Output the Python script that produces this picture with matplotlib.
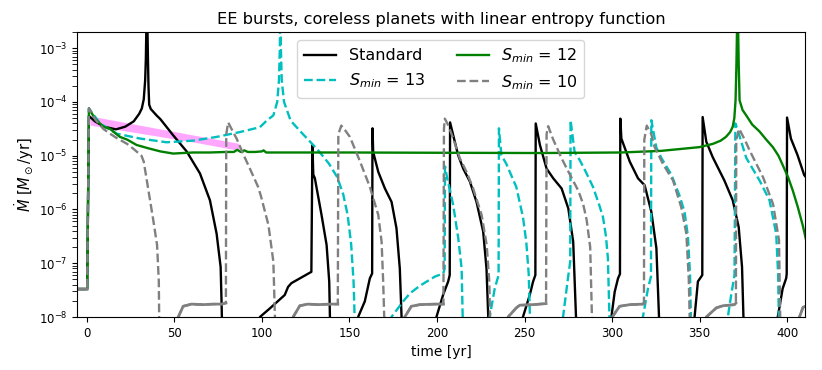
import numpy as np
import matplotlib.pyplot as plt

# time [yr] and log10(Mdot [Msun/yr]); -9 means "below the axis"
std_t = [-6, 0.3, 1.3, 4.7, 10, 16.7, 22, 26.9, 30, 31.5, 32.6, 33.4, 33.8, 34.1, 34.4, 34.7, 35.0, 35.3, 35.7, 36.6,
         39.9, 42.1, 49.4, 57.1, 64.7, 70.4, 74.2, 76.5, 77.0, 77.4, 77.8,
         98.5, 98.9, 104.6, 113.1, 115, 116.9, 128.3, 128.9, 129.4, 130.3, 134.1, 137.0, 138.5, 138.9, 139.2,
         154.7, 155.0, 158.8, 161.7, 163.0, 163.2, 163.6, 166.5, 170.3, 174.1, 176.9, 178.8, 179.8, 180.1,
         199.4, 199.7, 203.5, 206.4, 207.3, 207.5, 209.3, 212.1, 215.0, 218.8, 222.6, 226.4, 228.3, 229.3, 229.6,
         248.8, 249.1, 253.0, 254.9, 256.2, 256.4, 258.8, 262.6, 266.4, 271.2, 275.0, 277.8, 279.4, 279.7,
         299.3, 299.6, 301.5, 303.4, 304.5, 304.7, 305.3, 310.1, 314.8, 318.6, 322.4, 325.3, 326.8, 327.1,
         346.8, 347.1, 349.0, 351.5, 351.7, 353.8, 357.5, 364.1, 368.9, 372.3, 374.2, 375.0, 375.3,
         394.3, 394.6, 397.4, 399.4, 399.7, 399.9, 402.1, 405.9, 409.7, 412]
std_m = [-7.48, -7.48, -4.26, -4.36, -4.46, -4.51, -4.46, -4.36, -4.22, -4.12, -3.95, -3.6, -3.2, -2.6, -1.8, -2.6, -3.2, -3.7, -4.05, -4.13,
         -4.25, -4.32, -4.62, -4.92, -5.33, -5.83, -6.45, -7.07, -7.69, -8.3, -9,
         -9, -8, -7.84, -7.59, -7.44, -7.37, -7.16, -4.80, -5.35, -5.42, -6.10, -6.66, -7.34, -8, -9,
         -9, -8, -7.71, -7.28, -7.19, -4.49, -4.93, -5.30, -5.61, -5.86, -6.35, -7.10, -8, -9,
         -9, -8, -7.59, -7.34, -7.22, -4.38, -4.62, -4.99, -5.24, -5.48, -5.86, -6.41, -7.10, -8, -9,
         -9, -8, -7.59, -7.34, -7.22, -4.40, -4.80, -5.24, -5.42, -5.61, -5.98, -6.60, -8, -9,
         -9, -8, -7.53, -7.28, -7.20, -4.31, -4.68, -5.11, -5.42, -5.55, -6.04, -6.72, -8, -9,
         -9, -8, -7.34, -7.22, -4.28, -4.74, -5.03, -5.46, -5.83, -6.33, -7.07, -8, -9,
         -9, -8, -7.47, -7.28, -7.20, -4.29, -4.68, -4.99, -5.36, -5.45]

s13_t = [-6, 0.3, 1.3, 7.6, 17.1, 30.4, 45.6, 60.8, 74.2, 87.5, 98.9, 102.7, 106.6, 108.8, 109.8, 110.3, 110.6,
         110.9, 111.4, 112.7, 116.5, 124.1, 131.7, 138.4, 143.1, 146.5, 149.0, 151.0, 152.4, 153.0, 153.3,
         173.7, 174.0, 180.7, 184.6, 190.2, 198.7, 203.6, 204.4, 204.6, 205.5, 209.3, 212.2, 214.1, 214.7, 215.0,
         229.8, 230.1, 233.0, 235.2, 235.4, 236.8, 239.6, 245.3, 249.1, 251.0, 252.4, 253.1, 253.4,
         271.7, 272.0, 274.8, 276.1, 276.3, 278.6, 281.5, 285.0, 289.1, 292.5, 294.8, 296.5, 297.6, 298.5, 298.8,
         317.3, 317.6, 320.5, 322.2, 322.4, 325.3, 328.1, 333.8, 338.6, 341.4, 343.3, 344.5, 345.0, 345.3,
         365.8, 366.1, 368.0, 369.9, 370.4, 371.5, 376.6, 384.2, 389.9, 393.7, 394.8, 395.2, 395.5, 412]
s13_m = [-7.48, -7.48, -4.12, -4.40, -4.59, -4.68, -4.75, -4.72, -4.65, -4.56, -4.47, -4.35, -4.25, -4.0, -3.6, -3.0, -2.0,
         -3.0, -3.6, -4.0, -4.35, -4.62, -4.88, -5.15, -5.40, -5.72, -6.10, -6.64, -7.34, -8, -9,
         -9, -8, -7.71, -7.56, -7.42, -7.25, -7.19, -7.10, -5.20, -5.36, -5.92, -6.54, -7.10, -8, -9,
         -9, -8, -7.47, -7.22, -4.49, -4.99, -5.15, -5.58, -6.14, -6.60, -7.20, -8, -9,
         -9, -8, -7.28, -6.97, -4.34, -4.93, -5.08, -5.30, -5.58, -5.90, -6.14, -6.50, -6.90, -8, -9,
         -9, -8, -7.47, -7.25, -4.34, -4.85, -5.04, -5.35, -5.75, -6.05, -6.50, -7.20, -8, -9,
         -9, -8, -7.59, -7.22, -4.40, -4.50, -5.04, -5.46, -5.83, -6.45, -7.20, -8, -9, -9]

s12_t = [-6, 0.3, 1.3, 4.7, 9.5, 13.3, 19, 23.1, 28.5, 35, 42.1, 49.4, 55, 60.8, 70, 80, 84, 86, 88, 90, 92, 96,
         100, 101, 102.5, 150, 200, 258.7, 305, 327.9, 350, 357.5, 362, 365, 367.4, 368.9, 369.8, 370.5, 371.0,
         371.4, 371.6, 371.9, 372.3, 372.8, 374.5, 376.6, 380, 384.2, 388, 391.8, 395, 397.5, 400.5, 403.2, 406,
         408.9, 411]
s12_m = [-7.48, -7.48, -4.12, -4.31, -4.46, -4.50, -4.65, -4.70, -4.80, -4.86, -4.92, -4.96, -4.95, -4.94, -4.94, -4.93,
         -4.93, -4.89, -4.93, -4.90, -4.93, -4.93, -4.92, -4.90, -4.94, -4.94, -4.945, -4.95, -4.94, -4.91, -4.84,
         -4.78, -4.72, -4.65, -4.56, -4.46, -4.30, -3.97, -3.3, -2.5, -1.8, -2.5, -3.3, -3.97, -4.15, -4.25, -4.42,
         -4.55, -4.70, -4.84, -5.00, -5.18, -5.40, -5.65, -5.95, -6.30, -6.60]

s10_t = [-6, 0.3, 1.3, 5, 9.5, 13.3, 17.1, 23.1, 27, 31.3, 32.6, 35.1, 37.9, 40.2, 41.2, 41.4, 41.6,
         52.0, 52.3, 55.1, 59.9, 66.5, 72, 77.0, 79.5, 79.7, 80.8, 83, 85.6, 89.4, 93.2, 97.9, 99.5, 103.8, 106.6, 107.5, 107.8,
         117.6, 117.9, 121.7, 126.4, 132, 138.8, 143.4, 143.7, 145.4, 147, 150.3, 156, 161.7, 166.5, 168.4, 169.3, 169.9, 170.2,
         181.3, 181.6, 185.4, 190.2, 198.7, 203.7, 204.0, 204.5, 206.4, 209.3, 213.1, 216.9, 220.7, 225.5, 228.4, 229.9, 230.3, 230.6,
         240.3, 240.6, 245.3, 247.3, 254.9, 262.3, 262.6, 263.5, 266.4, 271.2, 275.9, 280.7, 283.5, 285.5, 287.5, 288.5, 288.8,
         299.8, 300.1, 304.3, 310.1, 317.7, 318.2, 318.4, 319.8, 322.4, 324.3, 329.0, 334.8, 339.5, 342.4, 343.8, 344.3, 344.6,
         353.5, 353.8, 359.5, 363.3, 369.9, 370.7, 370.9, 372.6, 376.6, 378.5, 386.2, 391.9, 395.3, 396.0, 396.3,
         406.7, 407.0, 409, 412]
s10_m = [-7.48, -7.48, -4.12, -4.33, -4.50, -4.59, -4.67, -4.78, -4.88, -5.00, -5.11, -5.61, -6.17, -6.66, -7.34, -8, -9,
         -9, -8, -7.80, -7.76, -7.77, -7.76, -7.76, -7.74, -4.60, -4.38, -4.52, -4.68, -4.97, -5.24, -5.58, -5.75, -6.29, -6.97, -8, -9,
         -9, -8, -7.79, -7.76, -7.77, -7.76, -7.76, -4.60, -4.44, -4.50, -4.65, -5.10, -5.58, -6.10, -6.60, -7.34, -8, -9,
         -9, -8, -7.80, -7.77, -7.76, -7.76, -4.50, -4.31, -4.43, -4.68, -5.05, -5.30, -5.61, -6.10, -6.66, -7.34, -8, -9,
         -9, -8, -7.83, -7.78, -7.77, -7.75, -4.60, -4.45, -4.70, -5.05, -5.35, -5.65, -5.90, -6.20, -6.70, -8, -9,
         -9, -8, -7.80, -7.77, -7.76, -7.74, -4.70, -4.44, -4.60, -4.84, -5.15, -5.46, -5.96, -6.45, -7.3, -8, -9,
         -9, -8, -7.83, -7.79, -7.77, -7.74, -4.70, -4.50, -4.76, -4.90, -5.40, -5.90, -6.57, -8, -9,
         -9, -8, -7.82, -7.78]

# low, noisy plateaus of the S_min = 10 run (they look solid in the figure)
s10_floor_spans = [(-7, 0.8), (51.5, 79.6), (117, 143.5), (181, 203.8), (240, 262.4), (299.5, 318.3), (353, 370.8), (406, 413)]

band_t = [1.9, 30, 60, 86.9]
band_lo = [-4.43, -4.58, -4.74, -4.90]
band_hi = [-4.26, -4.43, -4.61, -4.77]

fig = plt.figure(figsize=(8.22, 3.7), dpi=100)
ax = fig.add_axes([0.0937, 0.1432, 0.8853, 0.7703])

ax.fill_between(band_t, 10**np.array(band_lo), 10**np.array(band_hi), color='magenta', alpha=0.35, lw=0)

lw = 1.7
ax.plot(std_t, 10**np.array(std_m), color='k', lw=lw, label='Standard')
ax.plot(s13_t, 10**np.array(s13_m), color='c', lw=lw, ls='--', label='$S_{min}$ = 13')
ax.plot(s12_t, 10**np.array(s12_m), color='g', lw=lw, label='$S_{min}$ = 12')
ax.plot(s10_t, 10**np.array(s10_m), color='gray', lw=lw, ls='--', label='$S_{min}$ = 10')

t10 = np.array(s10_t)
mask = np.zeros(len(t10), dtype=bool)
for a, b in s10_floor_spans:
    mask |= (t10 >= a) & (t10 <= b)
ax.plot(t10, np.where(mask, 10**np.array(s10_m), np.nan), color='gray', lw=lw + 0.3)

ax.set_yscale('log')
ax.set_xlim(-5.5, 410)
ax.set_ylim(1e-8, 2e-3)
ax.set_xticks([0, 50, 100, 150, 200, 250, 300, 350, 400])
ax.tick_params(labelsize=8.5)
ax.tick_params(axis='y', which='minor', length=3.5)
ax.set_xlabel('time [yr]', fontsize=10)
ax.set_ylabel(r'$\dot{M}$ [$M_\odot$/yr]', fontsize=10.5)
ax.yaxis.set_label_coords(-0.056, 0.5)
ax.set_title('EE bursts, coreless planets with linear entropy function', fontsize=11.7)
ax.legend(loc='upper center', ncol=2, fontsize=11.5)

fig.savefig('out.png', dpi=100)
